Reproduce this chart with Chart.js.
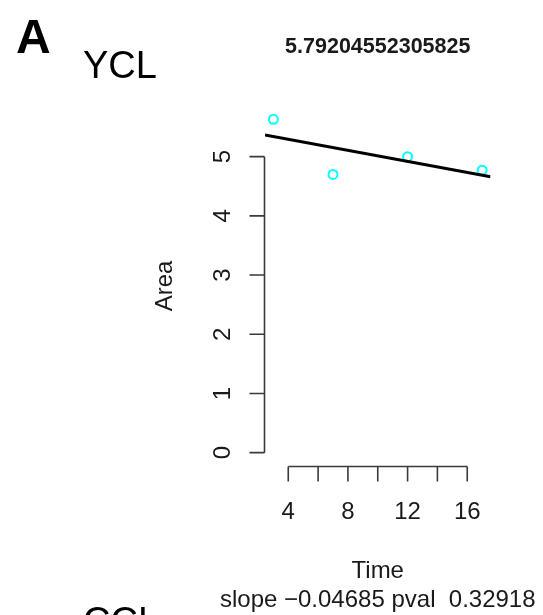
<!DOCTYPE html>
<html lang="en">
<head>
<meta charset="UTF-8">
<title>YCL area over time</title>
<script src="https://cdn.jsdelivr.net/npm/chart.js"></script>
<style>
    body { margin: 0; background: #fff; }
    .panel { position: relative; width: 543px; height: 615px; overflow: hidden; font-family: "Liberation Sans", Arial, sans-serif; }
    .panel canvas { position: absolute; left: 0; top: 0; }
    .tag { position: absolute; line-height: 1; color: #000; white-space: nowrap; }
    .tag.letter { left: 16px; top: 13px; font-size: 48px; font-weight: bold; }
    .tag.sample { left: 83px; font-size: 38px; }
</style>
</head>
<body>
<div class="panel">
    <canvas id="areaChart" width="543" height="615"></canvas>
    <div class="tag letter">A</div>
    <div class="tag sample" style="top:46px">YCL</div>
    <div class="tag sample" style="top:602px">CCL</div>
</div>

<script>
    // measurements
    const timePoints = [3, 7, 12, 17];
    const areaValues = [5.63, 4.70, 5.00, 4.77];

    // fit summary
    const fitSlope = -0.04685;
    const fitPval = 0.32918;
    const plotTitle = '5.79204552305825';

    // axis ticks
    const xTickValues = [4, 6, 8, 10, 12, 14, 16];
    const xTickLabels = ['4', '', '8', '', '12', '', '16'];
    const yTickValues = [0, 1, 2, 3, 4, 5];
    const yTickLabels = ['0', '1', '2', '3', '4', '5'];

    // R-style 4% range expansion
    const xSpan = Math.max(...timePoints) - Math.min(...timePoints);
    const xMin = Math.min(...timePoints) - 0.04 * xSpan;
    const xMax = Math.max(...timePoints) + 0.04 * xSpan;
    const yTop = Math.max(...areaValues);
    const yMin = -0.04 * yTop;
    const yMax = yTop * 1.04;

    // fitted line through the mean point
    const meanX = timePoints.reduce((a, b) => a + b, 0) / timePoints.length;
    const meanY = areaValues.reduce((a, b) => a + b, 0) / areaValues.length;
    const intercept = meanY - fitSlope * meanX;
    const fitLine = [xMin, xMax].map(x => ({ x: x, y: intercept + fitSlope * x }));

    const FONT = '"Liberation Sans", Arial, sans-serif';

    const rAxes = {
        id: 'rAxes',
        afterDraw(chart) {
            const ctx = chart.ctx;
            const xs = chart.scales.x;
            const ys = chart.scales.y;
            const area = chart.chartArea;
            const centerX = (area.left + area.right) / 2;

            ctx.save();
            ctx.strokeStyle = '#3a3a3a';
            ctx.lineWidth = 1.6;
            ctx.fillStyle = '#1a1a1a';

            // y axis
            const ax = area.left - 0.5;
            ctx.beginPath();
            ctx.moveTo(ax, ys.getPixelForValue(yTickValues[0]));
            ctx.lineTo(ax, ys.getPixelForValue(yTickValues[yTickValues.length - 1]));
            yTickValues.forEach(v => {
                const py = ys.getPixelForValue(v);
                ctx.moveTo(ax, py);
                ctx.lineTo(ax - 15, py);
            });
            ctx.stroke();
            ctx.font = '24px ' + FONT;
            ctx.textAlign = 'center';
            ctx.textBaseline = 'alphabetic';
            yTickValues.forEach((v, i) => {
                ctx.save();
                ctx.translate(ax - 35, ys.getPixelForValue(v));
                ctx.rotate(-Math.PI / 2);
                ctx.fillText(yTickLabels[i], 0, 0);
                ctx.restore();
            });

            // x axis
            const ay = area.bottom + 0.5;
            ctx.beginPath();
            ctx.moveTo(xs.getPixelForValue(xTickValues[0]), ay);
            ctx.lineTo(xs.getPixelForValue(xTickValues[xTickValues.length - 1]), ay);
            xTickValues.forEach(v => {
                const px = xs.getPixelForValue(v);
                ctx.moveTo(px, ay);
                ctx.lineTo(px, ay + 15);
            });
            ctx.stroke();
            xTickValues.forEach((v, i) => {
                if (xTickLabels[i]) ctx.fillText(xTickLabels[i], xs.getPixelForValue(v), ay + 52);
            });

            // axis titles and fit summary
            ctx.fillText('Time', centerX, 578);
            ctx.fillText('slope ' + fitSlope.toFixed(5).replace('-', '\u2212') + ' pval  ' + fitPval.toFixed(5), centerX, 607);
            ctx.save();
            ctx.translate(171.5, (area.top + area.bottom) / 2);
            ctx.rotate(-Math.PI / 2);
            ctx.fillText('Area', 0, 0);
            ctx.restore();

            // main title
            ctx.font = 'bold 21.5px ' + FONT;
            ctx.fillText(plotTitle, centerX, 53.3);
            ctx.restore();
        }
    };

    new Chart(document.getElementById('areaChart'), {
        type: 'scatter',
        data: {
            datasets: [
                {
                    type: 'line',
                    label: 'fit',
                    data: fitLine,
                    borderColor: '#000',
                    borderWidth: 3,
                    pointRadius: 0,
                    fill: false
                },
                {
                    label: 'Area',
                    data: timePoints.map((t, i) => ({ x: t, y: areaValues[i] })),
                    pointStyle: 'circle',
                    pointRadius: 4.5,
                    borderColor: '#00ffff',
                    backgroundColor: 'rgba(0,0,0,0)',
                    borderWidth: 2
                }
            ]
        },
        options: {
            responsive: false,
            animation: false,
            events: [],
            layout: { padding: { left: 265, right: 52.5, top: 106, bottom: 149 } },
            plugins: {
                legend: { display: false },
                tooltip: { enabled: false },
                title: { display: false }
            },
            scales: {
                x: { type: 'linear', display: false, min: xMin, max: xMax },
                y: { type: 'linear', display: false, min: yMin, max: yMax }
            }
        },
        plugins: [rAxes]
    });
</script>
</body>
</html>
